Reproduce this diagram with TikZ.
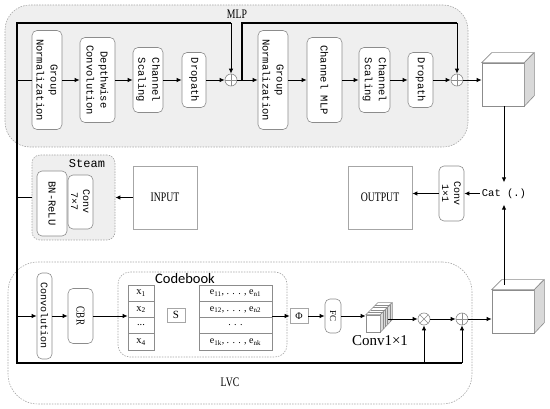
\documentclass[tikz,border=0pt]{standalone}
\usepackage{fontspec}
\setmainfont{Liberation Serif}
\newfontfamily\monof{Liberation Mono}
\newfontfamily\condf[FakeStretch=0.75]{Liberation Serif}
\newfontfamily\sansf{Carlito}
\usetikzlibrary{arrows.meta,calc}
\definecolor{bgray}{HTML}{8C8C8C}
\definecolor{dgray}{HTML}{A6A6A6}
\definecolor{fillg}{HTML}{EFEFEF}
\definecolor{sideg}{HTML}{D9D9D9}
\begin{document}
\begin{tikzpicture}[x=1pt,y=-1pt,
 blk/.style={draw=bgray, fill=white, rounded corners=5pt, rotate=-90, align=center, inner sep=0pt, line width=0.6pt, font=\monof\fontsize{10.5}{14}\selectfont},
 region/.style={draw=dgray, dash pattern=on 1.5pt off 1.2pt, line width=0.6pt, rounded corners=#1, inner sep=0pt},
 ar/.style={line width=0.9pt, -{Latex[length=5pt,width=4.5pt]}},
 ln/.style={line width=0.9pt},
 mainln/.style={line width=1.4pt},
 byln/.style={line width=1.2pt},
 circ/.style={circle, draw=bgray, fill=white, minimum size=12pt, inner sep=0pt, line width=0.6pt},
 oplus/.style={circ, path picture={\draw[bgray,line width=0.6pt] (path picture bounding box.north) -- (path picture bounding box.south) (path picture bounding box.west) -- (path picture bounding box.east);}},
 otimes/.style={circ, path picture={\draw[bgray,line width=0.6pt] (path picture bounding box.north west) -- (path picture bounding box.south east) (path picture bounding box.south west) -- (path picture bounding box.north east);}},
 plain/.style={draw=bgray, fill=white, line width=0.6pt, inner sep=0pt},
 iobox/.style={draw=dgray, fill=white, line width=0.6pt, inner sep=0pt, minimum width=64pt, minimum height=63pt, font=\condf\fontsize{13}{13}\selectfont},
 celltxt/.style={inner sep=0pt, font=\fontsize{10.5}{10.5}\selectfont},
]
\useasboundingbox (0,0) rectangle (550,409);

% regions
\node[region=25pt, fill=fillg, minimum width=463pt, minimum height=142pt] (mlp) at (236.5,76) {};
\node[region=30pt, minimum width=464pt, minimum height=142pt] (lvc) at (240,333) {};
\node[region=8pt, fill=fillg, minimum width=83pt, minimum height=85pt] (steam) at (73.5,197.5) {};
\node[region=12pt, minimum width=169pt, minimum height=85pt] (cbook) at (202.5,314.5) {};

% labels
\node[font=\condf\fontsize{13}{13}\selectfont] (mlplbl) at (237,14) {MLP};
\node[font=\condf\fontsize{13}{13}\selectfont] (lvclbl) at (230,382) {LVC};
\node[font=\monof\fontsize{12}{12}\selectfont] (steamlbl) at (87,164) {Steam};
\node[font=\sansf\fontsize{14.5}{14.5}\selectfont] (cblbl) at (185,279) {Codebook};

% MLP blocks
\node[blk, minimum width=99pt, minimum height=30pt] (gn1) at (47,80) {Group\\Normalization};
\node[blk, minimum width=85pt, minimum height=35pt] (dc1) at (97.5,80) {Depthwise\\Convolution};
\node[blk, minimum width=65pt, minimum height=30pt] (cs1) at (148,80) {Channel\\Scaling};
\node[blk, minimum width=55pt, minimum height=24pt] (dp1) at (194,80) {Dropath};
\node[oplus] (op1) at (231,80) {};
\node[blk, minimum width=99pt, minimum height=30pt] (gn2) at (273,80) {Group\\Normalization};
\node[blk, minimum width=85pt, minimum height=35pt] (cm) at (324.5,80) {Channel MLP};
\node[blk, minimum width=65pt, minimum height=31pt] (cs2) at (374.5,80) {Channel\\Scaling};
\node[blk, minimum width=55pt, minimum height=25pt] (dp2) at (420.5,80) {Dropath};
\node[oplus] (op2) at (457,80) {};

% cube 1
\node[plain, minimum width=42pt, minimum height=43pt] (cube1) at (503,84.5) {};
\draw[bgray, fill=white, line width=0.6pt] (cube1.north west) -- ++(10,-10) -- ++(42,0) -- (cube1.north east) -- cycle;
\draw[bgray, fill=sideg, line width=0.6pt] (cube1.north east) -- ++(10,-10) -- ++(0,43) -- (cube1.south east) -- cycle;

% Steam blocks
\node[blk, minimum width=65pt, minimum height=30pt] (bn) at (52,203.5) {BN-ReLU};
\node[blk, minimum width=54pt, minimum height=25pt, font=\monof\fontsize{10}{12}\selectfont] (c77) at (80.5,202) {Conv\\7×7};
\node[iobox] (input) at (165,197.5) {INPUT};
\node[iobox] (output) at (380,197.5) {OUTPUT};
\node[blk, minimum width=55pt, minimum height=25pt, font=\monof\fontsize{10}{12}\selectfont] (c11) at (451.5,193.5) {Conv\\1×1};
\node[font=\monof\fontsize{10.5}{10.5}\selectfont, inner xsep=2pt, inner ysep=6pt] (cat) at (504,193.5) {Cat (.)};

% LVC blocks
\node[blk, minimum width=86pt, minimum height=15pt, font=\monof\fontsize{10}{10}\selectfont] (conv) at (44.5,316) {Convolution};
\node[blk, minimum width=55pt, minimum height=25pt, font=\condf\fontsize{12}{12}\selectfont] (cbr) at (80.5,316) {CBR};
\node[plain, minimum width=26pt, minimum height=65pt] (xtab) at (141,317.5) {};
\draw[bgray, line width=0.6pt] (128,301.25) -- (154,301.25) (128,317.5) -- (154,317.5) (128,333.75) -- (154,333.75);
\node[celltxt] (x1) at (141,293.4) {x\textsubscript{1}};
\node[celltxt] (x2) at (141,309.6) {x\textsubscript{2}};
\node[celltxt] (x3) at (141,325.2) {...};
\node[celltxt] (x4) at (141,342.1) {x\textsubscript{4}};
\node[draw=dgray, fill=white, line width=0.6pt, minimum width=18pt, minimum height=14pt, inner sep=0pt, font=\fontsize{11}{11}\selectfont] (s) at (176,315) {S};
\node[plain, minimum width=73pt, minimum height=65pt] (etab) at (235.5,317.5) {};
\draw[bgray, line width=0.6pt] (199,301.25) -- (272,301.25) (199,317.5) -- (272,317.5) (199,333.75) -- (272,333.75);
\node[celltxt, font=\fontsize{10}{10}\selectfont] (e1) at (235.5,293.4) {e\textsubscript{11}, . . . , e\textsubscript{n1}};
\node[celltxt, font=\fontsize{10}{10}\selectfont] (e2) at (235.5,309.6) {e\textsubscript{12}, . . . , e\textsubscript{n2}};
\node[celltxt, font=\fontsize{10}{10}\selectfont] (e3) at (235.5,325.2) {. . .};
\node[celltxt, font=\fontsize{10}{10}\selectfont] (e4) at (235.5,342.1) {e\textsubscript{1k}, . . . , e\textsubscript{nk}};
\node[draw=dgray, fill=white, line width=0.6pt, minimum width=18pt, minimum height=15pt, inner sep=0pt, font=\fontsize{10}{10}\selectfont] (phi) at (299,316) {Φ};
\node[blk, minimum width=34pt, minimum height=16pt, font=\fontsize{9}{9}\selectfont] (fc) at (333,316) {FC};

% conv1x1 icon
\node[plain, minimum width=14pt, minimum height=17pt] (icon) at (373,323.5) {};
\draw[bgray, fill=white, line width=0.5pt] (icon.north west) -- ++(12,-12) -- ++(14,0) -- (icon.north east) -- cycle;
\draw[bgray, fill=sideg, line width=0.5pt] (icon.north east) -- ++(12,-12) -- ++(0,17) -- (icon.south east) -- cycle;
\foreach \k in {1,2,3,4} {
  \draw[bgray, line width=0.4pt] ($(icon.north west)+(2.4*\k,-2.4*\k)$) -- ($(icon.north east)+(2.4*\k,-2.4*\k)$) -- ++(0,17);
}
\node[font=\fontsize{15}{15}\selectfont, inner sep=0pt] (convlbl) at (380,341) {Conv1×1};
\node[otimes] (ot) at (424,319) {};
\node[oplus] (op3) at (462,319) {};

% cube 2
\node[plain, minimum width=42pt, minimum height=43pt] (cube2) at (513,311.5) {};
\draw[bgray, fill=white, line width=0.6pt] (cube2.north west) -- ++(10,-10) -- ++(42,0) -- (cube2.north east) -- cycle;
\draw[bgray, fill=sideg, line width=0.6pt] (cube2.north east) -- ++(10,-10) -- ++(0,43) -- (cube2.south east) -- cycle;

% coordinates
\coordinate (tl) at (17,23);
\coordinate (bl) at (17,363);
\coordinate (t1) at (231,23);
\coordinate (b1) at (242,80);
\coordinate (t2a) at (242,23);
\coordinate (t2b) at (457,23);
\coordinate (m1) at (17,80);
\coordinate (ms) at (17,197.5);
\coordinate (ml) at (17,316);
\coordinate (bx) at (424,363);
\coordinate (bp) at (462,363);
\coordinate (iconout) at (388,319);
\coordinate (c2t) at (504,285);

% connectors
\draw[mainln] (t1) -- (tl) -- (bl) -- (bp);
\draw[ar] (t1) -- (op1);
\draw[byln] (b1) -- (t2a) -- (t2b);
\draw[ar] (t2b) -- (op2);
\draw[ar] (bx) -- (ot);
\draw[ar] (bp) -- (op3);

\draw[ln] (m1) -- (gn1);
\draw[ar] (gn1) -- (dc1);
\draw[ar] (dc1) -- (cs1);
\draw[ar] (cs1) -- (dp1);
\draw[ar] (dp1) -- (op1);
\draw[ar] (op1) -- (gn2);
\draw[ar] (gn2) -- (cm);
\draw[ar] (cm) -- (cs2);
\draw[ar] (cs2) -- (dp2);
\draw[ar] (dp2) -- (op2);
\draw[ar] (op2) -- (op2 -| cube1.west);

\draw[ar] (cat |- cube1.south) -- (cat);
\draw[ar] (c2t) -- (cat);
\draw[ar] (cat) -- (c11);
\draw[ar] (c11) -- (c11 -| output.east);
\draw[ar] (input) -- (steam);
\draw[ln] (steam) -- (ms);

\draw[ar] (ml) -- (conv);
\draw[ar] (conv) -- (cbr);
\draw[ar] (cbr) -- (cbr -| xtab.west);
\draw[ar] (etab.east |- phi) -- (phi);
\draw[ar] (phi) -- (fc);
\draw[ar] (fc) -- (icon.north west |- fc);
\draw[ar] (iconout) -- (ot);
\draw[ar] (ot) -- (op3);
\draw[ar] (op3) -- (op3 -| cube2.west);
\end{tikzpicture}
\end{document}
